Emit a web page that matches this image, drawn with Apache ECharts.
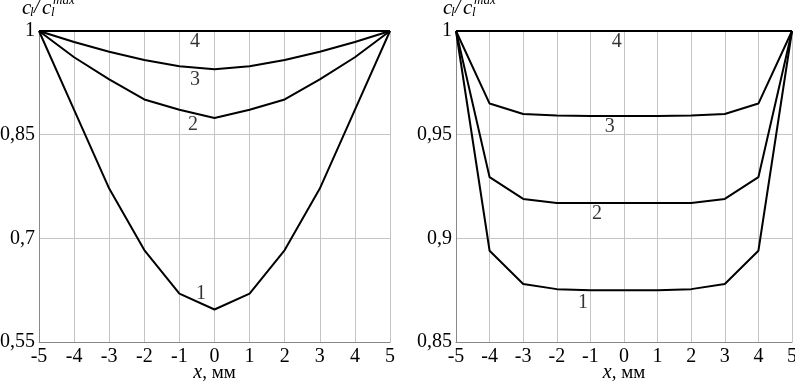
<!DOCTYPE html>
<html>
<head>
<meta charset="utf-8">
<script src="https://cdn.jsdelivr.net/npm/echarts@6/dist/echarts.min.js"></script>
<style>
  html, body { margin: 0; padding: 0; background: #fff; }
  #chart { width: 795px; height: 382px; }
</style>
</head>
<body>
<div id="chart"></div>
<script>
var FONT = '"Liberation Serif", "DejaVu Serif", serif';

// x, мм
var xs = [-5, -4, -3, -2, -1, 0, 1, 2, 3, 4, 5];

// left panel: c_l / c_l^max
var left1 = [1, 0.886, 0.772, 0.683, 0.620, 0.597, 0.620, 0.683, 0.772, 0.886, 1];
var left2 = [1, 0.962, 0.930, 0.901, 0.886, 0.874, 0.886, 0.901, 0.930, 0.962, 1];
var left3 = [1, 0.984, 0.970, 0.958, 0.949, 0.9445, 0.949, 0.958, 0.970, 0.984, 1];
var left4 = [1, 1, 1, 1, 1, 1, 1, 1, 1, 1, 1];

// right panel
var right1 = [1, 0.894, 0.878, 0.8755, 0.875, 0.875, 0.875, 0.8755, 0.878, 0.894, 1];
var right2 = [1, 0.9295, 0.919, 0.917, 0.917, 0.917, 0.917, 0.917, 0.919, 0.9295, 1];
var right3 = [1, 0.965, 0.960, 0.9592, 0.959, 0.959, 0.959, 0.9592, 0.960, 0.965, 1];
var right4 = [1, 1, 1, 1, 1, 1, 1, 1, 1, 1, 1];

// curve numbers: [x, y, text]
var leftTags = [[-0.556, 0.984, '4'], [-0.556, 0.929, '3'], [-0.61, 0.864, '2'], [-0.385, 0.620, '1']];
var rightTags = [[-0.213, 0.9948, '4'], [-0.427, 0.9539, '3'], [-0.80, 0.9118, '2'], [-1.22, 0.8687, '1']];

var leftTicks = { min: 0.55, max: 1, interval: 0.15 };
var rightTicks = { min: 0.85, max: 1, interval: 0.05 };

function pairs(ys) {
  return xs.map(function (x, i) { return [x, ys[i]]; });
}

function xAxisOf(idx) {
  return {
    type: 'value', gridIndex: idx, min: -5, max: 5, interval: 1,
    axisLine: { onZero: false, lineStyle: { color: '#888', width: 1 } },
    axisTick: { show: false },
    axisLabel: { color: '#000', fontFamily: FONT, fontSize: 20, margin: 5 },
    splitLine: { show: true, lineStyle: { color: '#c4c4c4', width: 1 } },
    name: '{i|x}{n|, мм}',
    nameLocation: 'middle',
    nameGap: 21,
    nameMoveOverlap: false,
    nameTextStyle: {
      rich: {
        i: { fontFamily: FONT, fontStyle: 'italic', fontSize: 20, color: '#000' },
        n: { fontFamily: FONT, fontSize: 19, color: '#000' }
      }
    }
  };
}

function yAxisOf(idx, t) {
  return {
    type: 'value', gridIndex: idx, min: t.min, max: t.max, interval: t.interval,
    axisLine: { show: true, onZero: false, lineStyle: { color: '#888', width: 1 } },
    axisTick: { show: false },
    axisLabel: {
      color: '#000', fontFamily: FONT, fontSize: 20, margin: 4,
      formatter: function (v) { return String(+v.toFixed(2)).replace('.', ','); }
    },
    splitLine: { show: true, lineStyle: { color: '#c4c4c4', width: 1 } }
  };
}

function curve(idx, ys) {
  return {
    type: 'line', xAxisIndex: idx, yAxisIndex: idx,
    data: pairs(ys), showSymbol: false, symbol: 'none',
    lineStyle: { color: '#000', width: 2 },
    silent: true, animation: false
  };
}

function tags(idx, list) {
  return {
    type: 'scatter', xAxisIndex: idx, yAxisIndex: idx,
    data: list, symbolSize: 1, itemStyle: { color: 'rgba(0,0,0,0)' },
    label: {
      show: true, position: 'inside', color: '#000',
      fontFamily: FONT, fontSize: 20,
      formatter: function (p) { return p.value[2]; }
    },
    silent: true, animation: false
  };
}

// y axis title c_l / c_l^max, drawn with plain text pieces
function yTitle(dx) {
  var it = function (text, x, y, size) {
    return {
      type: 'text', x: x + dx, y: y, silent: true,
      style: {
        text: text, fill: '#000', verticalAlign: 'middle', align: 'left',
        font: 'italic ' + size + 'px ' + FONT
      }
    };
  };
  return [
    it('c', 22, 8, 21),
    it('l', 30, 13, 13),
    it('/', 34, 8, 20),
    it('c', 42, 8, 21),
    it('l', 51, 13, 13),
    it('max', 53, 1, 13)
  ];
}

var chart = echarts.init(document.getElementById('chart'), null, { renderer: 'canvas' });

chart.setOption({
  backgroundColor: '#fff',
  animation: false,
  grid: [
    { left: 39, right: 405, top: 31, bottom: 40, containLabel: false, outerBoundsMode: 'none' },
    { left: 456, right: 3, top: 31, bottom: 40, containLabel: false, outerBoundsMode: 'none' }
  ],
  xAxis: [xAxisOf(0), xAxisOf(1)],
  yAxis: [yAxisOf(0, leftTicks), yAxisOf(1, rightTicks)],
  graphic: yTitle(0).concat(yTitle(421)),
  series: [
    curve(0, left1), curve(0, left2), curve(0, left3), curve(0, left4),
    curve(1, right1), curve(1, right2), curve(1, right3), curve(1, right4),
    tags(0, leftTags), tags(1, rightTags)
  ]
});
</script>
</body>
</html>
